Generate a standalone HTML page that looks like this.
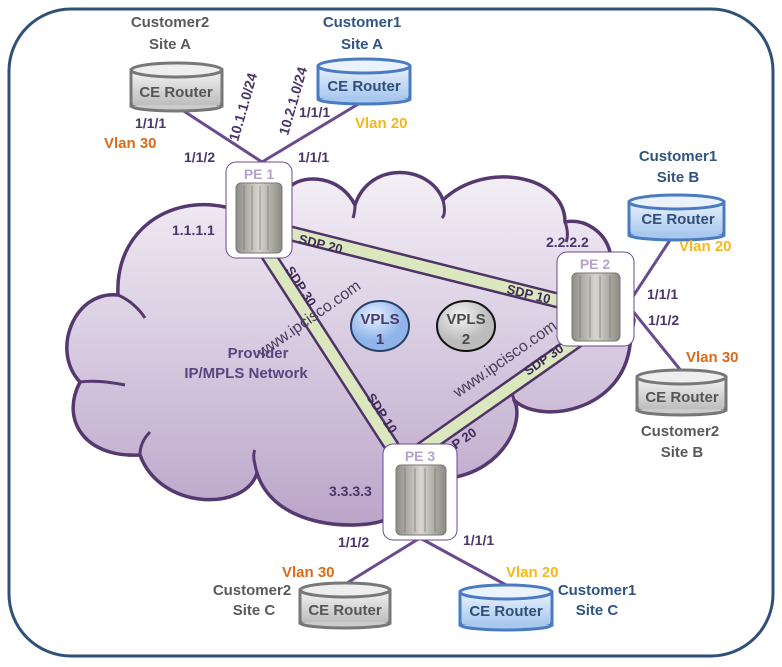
<!DOCTYPE html>
<html><head><meta charset="utf-8"><style>
html,body{margin:0;padding:0;background:#fff}
svg{display:block}
text{font-family:"Liberation Sans",sans-serif;font-weight:bold}
</style></head><body>
<svg width="782" height="667" viewBox="0 0 782 667" xmlns="http://www.w3.org/2000/svg">
<defs>
<linearGradient id="cg" x1="0" y1="160" x2="0" y2="530" gradientUnits="userSpaceOnUse">
<stop offset="0" stop-color="#f6f2f8"/><stop offset="1" stop-color="#baa4c9"/></linearGradient>
<linearGradient id="gg" x1="0" y1="0" x2="0" y2="1"><stop offset="0" stop-color="#f4f4f4"/><stop offset="1" stop-color="#bdbdbd"/></linearGradient>
<linearGradient id="bg" x1="0" y1="0" x2="0" y2="1"><stop offset="0" stop-color="#eaf2fc"/><stop offset="1" stop-color="#a9c8ee"/></linearGradient>
<linearGradient id="rt" x1="0" y1="0" x2="1" y2="0"><stop offset="0" stop-color="#8e8e86"/><stop offset="0.5" stop-color="#d6d6cf"/><stop offset="1" stop-color="#8a8a82"/></linearGradient>
<radialGradient id="v1" cx="0.4" cy="0.3"><stop offset="0" stop-color="#e8f1ff"/><stop offset="1" stop-color="#8fb4ea"/></radialGradient>
<radialGradient id="v2" cx="0.4" cy="0.3"><stop offset="0" stop-color="#f4f4f4"/><stop offset="1" stop-color="#bcbcbc"/></radialGradient>
</defs>
<rect x="9" y="9" width="764" height="647" rx="62" fill="#fff" stroke="#2f5077" stroke-width="3"/>
<!-- cloud -->
<path d="M225 207 C170 195 115 230 118 295 C75 290 50 350 80 382 C60 420 85 458 140 455 C160 510 245 512 257 473 C275 530 360 530 385 520 L450 478 C505 470 525 420 514 400 C540 425 622 412 630 345 L634 320 L610 252 C605 232 585 218 565 222 C565 175 485 160 443 200 C430 165 370 160 355 205 C340 175 305 175 292 185 Z" fill="url(#cg)" stroke="#563870" stroke-width="3.5" stroke-linejoin="round"/>
<g fill="none" stroke="#563870" stroke-width="3">
<path d="M118 295 C130 300 140 310 145 318"/><path d="M80 382 C95 380 110 382 125 385"/><path d="M140 455 C140 445 145 437 150 432"/>
<path d="M257 473 C255 465 252 455 255 450"/><path d="M443 200 C445 208 445 215 442 218"/><path d="M355 205 C355 210 354 215 353 218"/>
<path d="M565 222 C568 230 568 238 566 242"/><path d="M514 400 C512 392 510 386 508 382"/>
</g>
<!-- SDP tubes -->
<g stroke-linecap="butt">
<line x1="285" y1="232" x2="568" y2="303" stroke="#4e3366" stroke-width="16"/>
<line x1="285" y1="232" x2="568" y2="303" stroke="#dbe7be" stroke-width="11"/>
<line x1="265" y1="250" x2="398" y2="456" stroke="#4e3366" stroke-width="16"/>
<line x1="265" y1="250" x2="398" y2="456" stroke="#dbe7be" stroke-width="11"/>
<line x1="585" y1="335" x2="418" y2="452" stroke="#4e3366" stroke-width="16"/>
<line x1="585" y1="335" x2="418" y2="452" stroke="#dbe7be" stroke-width="11"/>
</g>
<g fill="#3f2a58" font-size="13">
<text transform="translate(298,243) rotate(14)">SDP 20</text>
<text transform="translate(506,293) rotate(14)">SDP 10</text>
<text transform="translate(285,270) rotate(57)">SDP 30</text>
<text transform="translate(366,397) rotate(57)">SDP 10</text>
<text transform="translate(441,460) rotate(-35)">SDP 20</text>
<text transform="translate(528,376) rotate(-35)">SDP 30</text>
</g>
<!-- access lines -->
<g stroke="#6b4a8e" stroke-width="3">
<line x1="176" y1="106" x2="262" y2="162"/><line x1="365" y1="100" x2="262" y2="162"/>
<line x1="632" y1="298" x2="672" y2="237"/><line x1="632" y1="310" x2="682" y2="372"/>
<line x1="420" y1="538" x2="347" y2="583"/><line x1="420" y1="538" x2="508" y2="586"/>
</g>
<!-- VPLS -->
<ellipse cx="380" cy="326" rx="29" ry="25" fill="url(#v1)" stroke="#2a3f66" stroke-width="2"/>
<ellipse cx="466" cy="326" rx="29" ry="25" fill="url(#v2)" stroke="#111" stroke-width="2"/>
<g font-size="15" fill="#4a3a6a" text-anchor="middle"><text x="380" y="324">VPLS</text><text x="380" y="344">1</text></g>
<g font-size="15" fill="#4a4a4a" text-anchor="middle"><text x="466" y="324">VPLS</text><text x="466" y="344">2</text></g>
<!-- watermarks -->
<g fill="#4a3a5c" font-size="16">
<text transform="translate(262,358) rotate(-35)" style="font-weight:normal">www.ipcisco.com</text>
<text transform="translate(458,398) rotate(-35)" style="font-weight:normal">www.ipcisco.com</text>
</g>
<g fill="#5b4380" font-size="15" text-anchor="middle"><text x="258" y="358">Provider</text><text x="246" y="378">IP/MPLS Network</text></g>
<!-- PE boxes -->
<g>
<rect x="226" y="162" width="66" height="96" rx="10" fill="#fff" stroke="#6b4a8e" stroke-width="1"/>
<rect x="236" y="183" width="46" height="70" rx="5" fill="url(#rt)" stroke="#777"/>
<rect x="557" y="252" width="77" height="94" rx="10" fill="#fff" stroke="#6b4a8e" stroke-width="1"/>
<rect x="572" y="273" width="48" height="68" rx="5" fill="url(#rt)" stroke="#777"/>
<rect x="383" y="444" width="74" height="96" rx="10" fill="#fff" stroke="#6b4a8e" stroke-width="1"/>
<rect x="396" y="465" width="50" height="70" rx="5" fill="url(#rt)" stroke="#777"/>
</g>
<g stroke="#666" stroke-width="1" opacity="0.6">
<path d="M244 186v64M252 186v64M260 186v64M268 186v64M580 276v62M590 276v62M600 276v62M610 276v62M405 468v64M415 468v64M425 468v64M435 468v64"/>
</g>
<g fill="#b3a3cc" font-size="14" text-anchor="middle"><text x="259" y="179">PE 1</text><text x="595" y="269">PE 2</text><text x="420" y="461">PE 3</text></g>
<!-- CE routers -->
<g font-size="15" text-anchor="middle">
<g><rect x="131" y="70" width="91" height="36" fill="url(#gg)" stroke="#777" stroke-width="3"/><ellipse cx="176.5" cy="106" rx="45.5" ry="5" fill="#ccc" stroke="#777" stroke-width="3"/><rect x="133" y="70" width="87" height="35" fill="url(#gg)"/><ellipse cx="176.5" cy="70" rx="45.5" ry="7" fill="#eee" stroke="#777" stroke-width="3"/><text x="176" y="97" fill="#555">CE Router</text></g>
<g><rect x="318" y="66" width="92" height="33" fill="url(#bg)" stroke="#4a7bc0" stroke-width="3"/><ellipse cx="364" cy="99" rx="46" ry="5" fill="#a9c8ee" stroke="#4a7bc0" stroke-width="3"/><rect x="320" y="66" width="88" height="32" fill="url(#bg)"/><ellipse cx="364" cy="66" rx="46" ry="7" fill="#eaf2fc" stroke="#4a7bc0" stroke-width="3"/><text x="364" y="91" fill="#2f4f7a">CE Router</text></g>
<g><rect x="629" y="202" width="95" height="33" fill="url(#bg)" stroke="#4a7bc0" stroke-width="3"/><ellipse cx="676.5" cy="235" rx="47.5" ry="5" fill="#a9c8ee" stroke="#4a7bc0" stroke-width="3"/><rect x="631" y="202" width="91" height="32" fill="url(#bg)"/><ellipse cx="676.5" cy="202" rx="47.5" ry="7" fill="#eaf2fc" stroke="#4a7bc0" stroke-width="3"/><text x="678" y="224" fill="#2f4f7a">CE Router</text></g>
<g><rect x="637" y="377" width="89" height="33" fill="url(#gg)" stroke="#777" stroke-width="3"/><ellipse cx="681.5" cy="410" rx="44.5" ry="5" fill="#ccc" stroke="#777" stroke-width="3"/><rect x="639" y="377" width="85" height="32" fill="url(#gg)"/><ellipse cx="681.5" cy="377" rx="44.5" ry="7" fill="#eee" stroke="#777" stroke-width="3"/><text x="682" y="402" fill="#555">CE Router</text></g>
<g><rect x="300" y="590" width="90" height="33" fill="url(#gg)" stroke="#777" stroke-width="3"/><ellipse cx="345" cy="623" rx="45" ry="5" fill="#ccc" stroke="#777" stroke-width="3"/><rect x="302" y="590" width="86" height="32" fill="url(#gg)"/><ellipse cx="345" cy="590" rx="45" ry="7" fill="#eee" stroke="#777" stroke-width="3"/><text x="345" y="615" fill="#555">CE Router</text></g>
<g><rect x="460" y="592" width="92" height="33" fill="url(#bg)" stroke="#4a7bc0" stroke-width="3"/><ellipse cx="506" cy="625" rx="46" ry="5" fill="#a9c8ee" stroke="#4a7bc0" stroke-width="3"/><rect x="462" y="592" width="88" height="32" fill="url(#bg)"/><ellipse cx="506" cy="592" rx="46" ry="7" fill="#eaf2fc" stroke="#4a7bc0" stroke-width="3"/><text x="506" y="616" fill="#2f4f7a">CE Router</text></g>
</g>
<!-- customer labels -->
<g font-size="15" text-anchor="middle">
<g fill="#5a5a5a"><text x="170" y="27">Customer2</text><text x="170" y="49">Site A</text>
<text x="680" y="436">Customer2</text><text x="682" y="457">Site B</text>
<text x="252" y="595">Customer2</text><text x="254" y="615">Site C</text></g>
<g fill="#2f5580"><text x="362" y="27">Customer1</text><text x="362" y="49">Site A</text>
<text x="678" y="161">Customer1</text><text x="678" y="182">Site B</text>
<text x="597" y="595">Customer1</text><text x="597" y="615">Site C</text></g>
</g>
<g font-size="14" fill="#4a3568">
<text x="135" y="128">1/1/1</text><text x="184" y="162">1/1/2</text><text x="298" y="162">1/1/1</text><text x="299" y="117">1/1/1</text>
<text x="172" y="235">1.1.1.1</text><text x="546" y="247">2.2.2.2</text><text x="329" y="496">3.3.3.3</text>
<text x="647" y="299">1/1/1</text><text x="648" y="325">1/1/2</text>
<text x="338" y="547">1/1/2</text><text x="463" y="545">1/1/1</text>
<text transform="translate(238,142) rotate(-74)">10.1.1.0/24</text>
<text transform="translate(288,136) rotate(-74)">10.2.1.0/24</text>
</g>
<g font-size="15">
<text x="104" y="148" fill="#d96b1a">Vlan 30</text><text x="355" y="128" fill="#f2b81c">Vlan 20</text>
<text x="679" y="251" fill="#f2b81c">Vlan 20</text><text x="686" y="362" fill="#d96b1a">Vlan 30</text>
<text x="282" y="577" fill="#d96b1a">Vlan 30</text><text x="506" y="577" fill="#f2b81c">Vlan 20</text>
</g>
</svg>
</body></html>
